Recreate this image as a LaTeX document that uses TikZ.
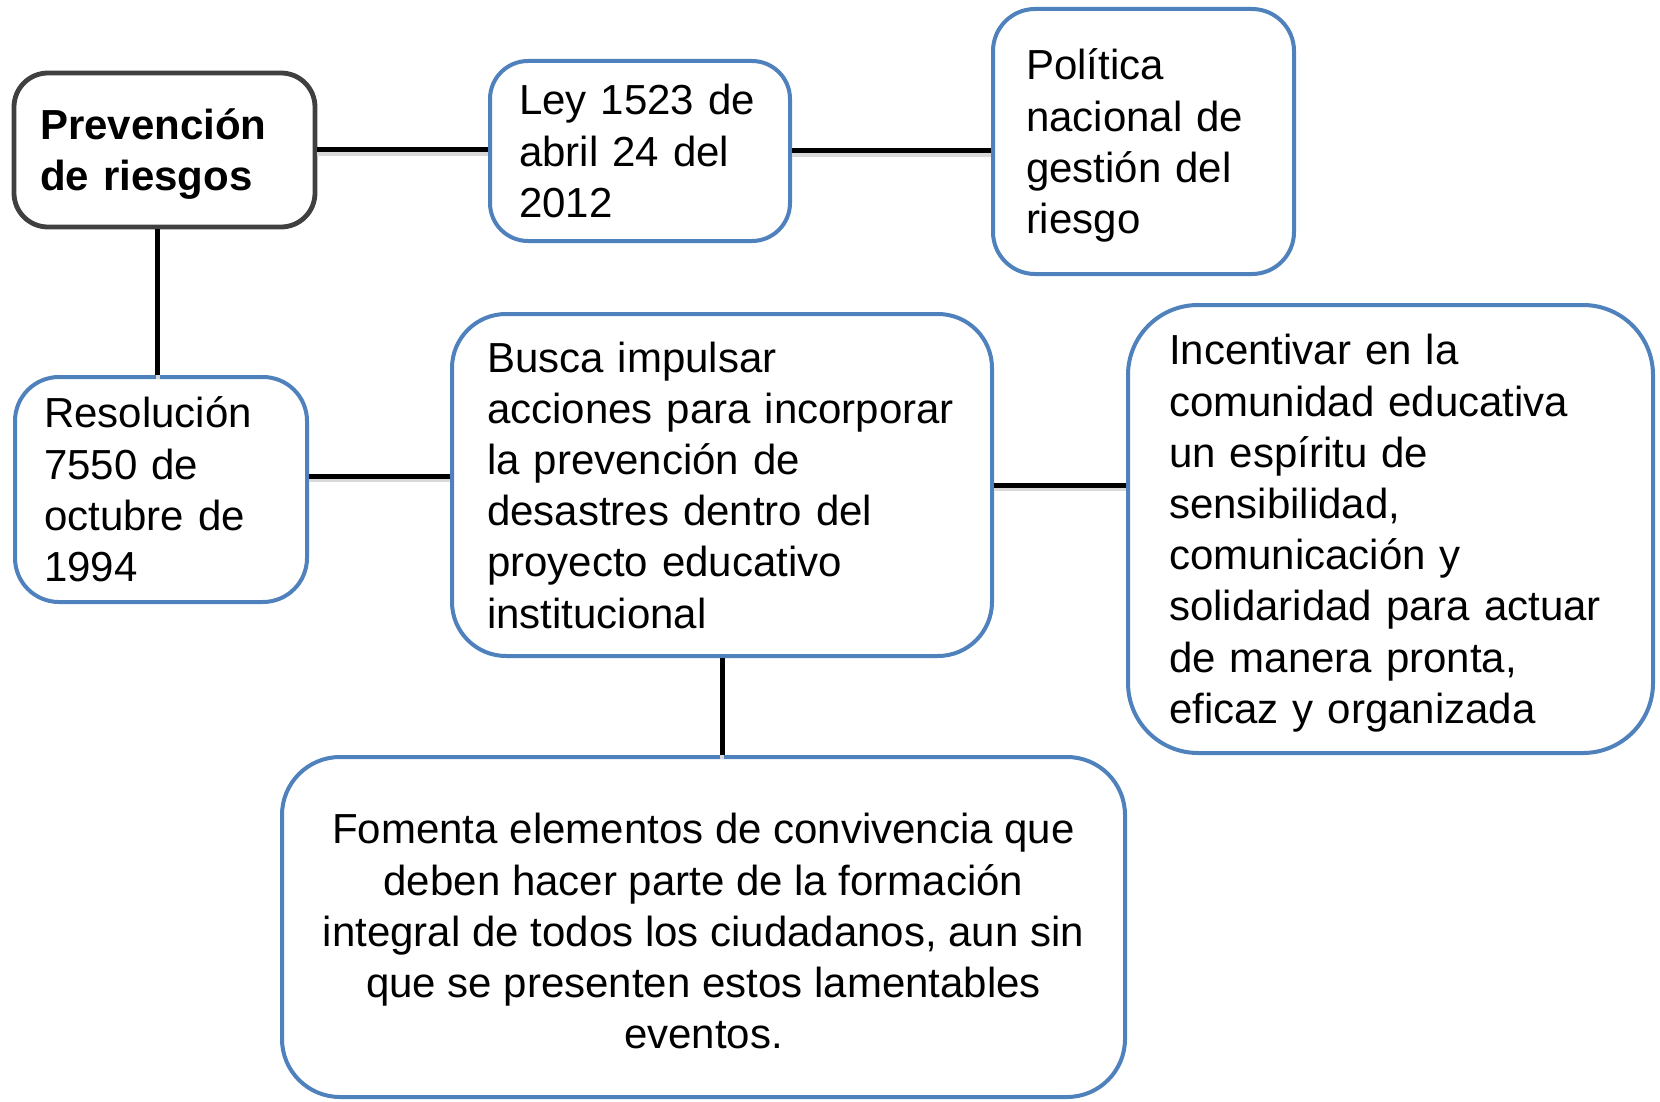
\documentclass[tikz,border=0pt]{standalone}
\usepackage{fontspec}
\setmainfont{Liberation Sans}
\definecolor{boxblue}{RGB}{79,129,189}
\definecolor{boxgray}{RGB}{64,64,64}
\newcommand{\topgap}{\rule{0pt}{19.5pt}}
\begin{document}
\begin{tikzpicture}[x=0.5pt,y=0.5pt,yscale=-1,
  box/.style={rectangle, draw=boxblue, line width=2pt, fill=white, inner ysep=0pt, align=left, font=\fontsize{21}{25.6}\selectfont},
  link/.style={draw=black, line width=2.5pt, preaction={draw=black!15, line width=2pt, transform canvas={yshift=-1.8pt}}}]
\useasboundingbox (0,0) rectangle (1660,1102);

%Shape: Rounded Rect [prev]
\node [box, draw=boxgray, line width=2.4pt, rounded corners=17pt, minimum width=150.5pt, minimum height=77pt, inner xsep=13pt, text width=124.5pt, font=\fontsize{21}{25.6}\selectfont\bfseries] (prev) at (164.5,150) {\topgap Prevención\\de riesgos};
%Shape: Rounded Rect [ley]
\node [box, rounded corners=19pt, minimum width=150pt, minimum height=90pt, inner xsep=14.5pt, text width=121pt] (ley) at (640,151) {Ley 1523 de\\abril 24 del\\2012};
%Shape: Rounded Rect [pol]
\node [box, rounded corners=21pt, minimum width=150.5pt, minimum height=132.5pt, inner xsep=16.5pt, text width=117.5pt] (pol) at (1143.5,141.5) {\topgap Política\\nacional de\\gestión del\\riesgo};
%Shape: Rounded Rect [res]
\node [box, rounded corners=22pt, minimum width=146pt, minimum height=112.5pt, inner xsep=14.5pt, text width=117pt] (res) at (161,489.5) {Resolución\\7550 de\\octubre de\\1994};
%Shape: Rounded Rect [busca]
\node [box, rounded corners=27pt, minimum width=270pt, minimum height=171pt, inner xsep=17.5pt, text width=235pt] (busca) at (722,485) {Busca impulsar\\acciones para incorporar\\la prevención de\\desastres dentro del\\proyecto educativo\\institucional};
%Shape: Rounded Rect [inc]
\node [box, rounded corners=35pt, minimum width=262.5pt, minimum height=224pt, inner xsep=20.5pt, text width=221.5pt] (inc) at (1390.5,529) {\topgap Incentivar en la\\comunidad educativa\\un espíritu de\\sensibilidad,\\comunicación y\\solidaridad para actuar\\de manera pronta,\\eficaz y organizada};
%Shape: Rounded Rect [fom]
\node [box, rounded corners=29pt, minimum width=421.5pt, minimum height=170pt, align=center] (fom) at (703.5,927) {\topgap Fomenta elementos de convivencia que\\deben hacer parte de la formación\\integral de todos los ciudadanos, aun sin\\que se presenten estos lamentables\\eventos.};

%Straight Lines
\draw [link] (prev.east) -- (prev.east -| ley.west);
\draw [link] (ley.east) -- (ley.east -| pol.west);
\draw [link] ([xshift=-3.5pt]prev.south) -- ([xshift=-3.5pt]prev.south |- res.north);
\draw [link] ([yshift=-4.5pt]busca.west) -- ([yshift=-4.5pt]busca.west -| res.east);
\draw [link] (busca.east) -- (busca.east -| inc.west);
\draw [link] (busca.south) -- (busca.south |- fom.north);

\end{tikzpicture}
\end{document}
